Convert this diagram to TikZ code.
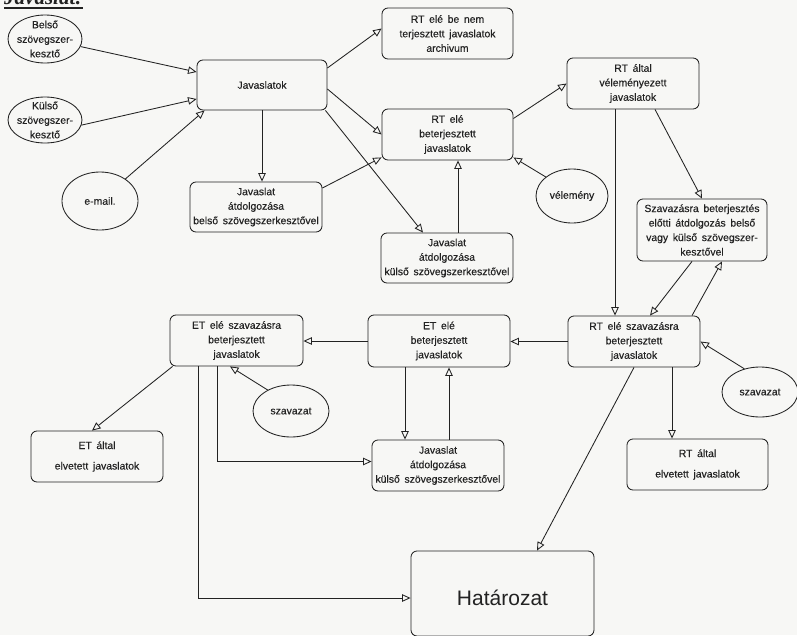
\documentclass[tikz,border=0pt]{standalone}
\usepackage{fontspec}
\setmainfont{Liberation Sans}
\newfontfamily\titlefont{Liberation Serif}
\newfontfamily\boxfont{Liberation Sans}[FakeBold=0.35]
\usetikzlibrary{arrows.meta,shapes.geometric,calc}

\definecolor{ink}{HTML}{222222}
\definecolor{paper}{HTML}{F7F7F5}

\begin{document}
\begin{tikzpicture}[x=1pt,y=-1pt,
  txt/.style={font={\boxfont\fontsize{10.4}{14.5}\selectfont\spaceskip=0.45em\relax}, text=ink, align=center},
  box/.style={txt, draw=ink, line width=0.85pt, rounded corners=6pt, inner sep=0pt},
  widebox/.style={box, font={\boxfont\fontsize{10.4}{20.5}\selectfont\spaceskip=0.45em\relax}},
  oval/.style={draw=ink, line width=0.85pt, ellipse, inner sep=0pt},
  ovaltext/.style={txt, inner sep=0pt},
  link/.style={draw=ink, line width=0.85pt, -{Triangle[open,length=8.5pt,width=7.5pt]}},
]
% page
\fill[paper] (0,0) rectangle (797,635);
\useasboundingbox (0,0) rectangle (797,635);

% heading, partly above the page edge
\node[anchor=base west, inner sep=0pt, text=ink,
      font=\titlefont\bfseries\itshape\fontsize{21}{24}\selectfont] (title) at (4,4) {Javaslat:};
\draw[ink, line width=1.6pt] ([yshift=-3.8pt]title.base west) -- ([yshift=-3.8pt]title.base east);

% sources
\node[oval, minimum width=74pt, minimum height=48pt,
      label={[ovaltext]center:Belső\\szövegszer-\\kesztő}] (belso) at (45,39) {};
\node[oval, minimum width=74pt, minimum height=46pt,
      label={[ovaltext]center:Külső\\szövegszer-\\kesztő}] (kulso) at (45,120) {};
\node[oval, minimum width=76pt, minimum height=58pt,
      label={[ovaltext]center:e-mail.}] (email) at (100,201) {};

% upper flow
\node[box, minimum width=130pt, minimum height=50pt] (jav) at (262,85) {Javaslatok};
\node[box, minimum width=131pt, minimum height=51pt] (arch) at (447.5,33.5) {RT elé be nem\\terjesztett javaslatok\\archivum};
\node[box, minimum width=131pt, minimum height=51pt] (rtb) at (447.5,134.5) {RT elé\\beterjesztett\\javaslatok};
\node[box, minimum width=132pt, minimum height=50pt] (belsoat) at (256,207) {Javaslat\\átdolgozása\\belső szövegszerkesztővel};
\node[box, minimum width=132pt, minimum height=50pt] (kulsoatA) at (447,258) {Javaslat\\átdolgozása\\külső szövegszerkesztővel};
\node[box, minimum width=132pt, minimum height=51pt] (rtvel) at (633,83.5) {RT által\\véleményezett\\javaslatok};
\node[oval, minimum width=72pt, minimum height=54pt,
      label={[ovaltext]center:vélemény}] (velemeny) at (572,196) {};
\node[box, minimum width=130pt, minimum height=62pt] (szavat) at (702,230) {Szavazásra beterjesztés\\előtti átdolgozás belső\\vagy külső szövegszer-\\kesztővel};

% lower flow
\node[box, minimum width=132pt, minimum height=51pt] (rtsz) at (634,341.5) {RT elé szavazásra\\beterjesztett\\javaslatok};
\node[oval, minimum width=76pt, minimum height=50pt,
      label={[ovaltext]center:szavazat}] (szavR) at (760,392) {};
\node[widebox, minimum width=141pt, minimum height=51pt] (rtelv) at (697.5,464.5) {RT által\\elvetett javaslatok};
\node[box, minimum width=142pt, minimum height=52pt] (etb) at (439,341) {ET elé\\beterjesztett\\javaslatok};
\node[box, minimum width=132pt, minimum height=51pt] (kulsoatB) at (438,465.5) {Javaslat\\átdolgozása\\külső szövegszerkesztővel};
\node[box, minimum width=133pt, minimum height=51pt] (etsz) at (236.5,340.5) {ET elé szavazásra\\beterjesztett\\javaslatok};
\node[oval, minimum width=76pt, minimum height=52pt,
      label={[ovaltext]center:szavazat}] (szavL) at (291,411) {};
\node[widebox, minimum width=132pt, minimum height=51pt] (etelv) at (97,456.5) {ET által\\elvetett javaslatok};
\node[box, minimum width=183pt, minimum height=85pt,
      label={[text=ink, font=\fontsize{21}{25}\selectfont, yshift=-4.5pt]center:Határozat}] (hat) at (502.5,593.5) {};

% connectors: upper flow
\draw[link] (belso.-12) -- ([yshift=13pt]jav.west);
\draw[link] (kulso.-8) -- ([yshift=-14pt]jav.west);
\draw[link] (email.41) -- ([xshift=8pt]jav.south west);
\draw[link] ([yshift=17pt]jav.east) -- ([yshift=5pt]arch.west);
\draw[link] ([yshift=-4pt]jav.east) -- (rtb.west);
\draw[link] (jav.south) -- (jav.south |- belsoat.north);
\draw[link] ([xshift=-2pt]jav.south east) -- ([xshift=-24pt]kulsoatA.north);
\draw[link] ([yshift=19pt]belsoat.east) -- ([yshift=3pt]rtb.south west);
\draw[link] ([xshift=11pt]kulsoatA.north) -- ([xshift=11pt]kulsoatA.north |- rtb.south);
\draw[link] ([yshift=16pt]rtb.east) -- (rtvel.west);
\draw[link] (velemeny.144) -- ([yshift=3pt]rtb.south east);
\draw[link] ([xshift=22pt]rtvel.south) -- (szavat.north);
\draw[link] ([xshift=-18pt]rtvel.south) -- ([xshift=-18pt]rtvel.south |- rtsz.north);
\draw[link] ([xshift=-10pt]szavat.south) -- ([xshift=16pt]rtsz.north);
\draw[link] ([xshift=58pt]rtsz.north) -- ([xshift=20pt]szavat.south);

% connectors: lower flow
\draw[link] (szavR.124) -- (rtsz.east);
\draw[link] (rtsz.west) -- (rtsz.west -| etb.east);
\draw[link] ([xshift=38pt]rtsz.south) -- ([xshift=38pt]rtsz.south |- rtelv.north);
\draw[link] (rtsz.south) -- ([xshift=34.5pt]hat.north);
\draw[link] ([xshift=-34pt]etb.south) -- ([xshift=-34pt]etb.south |- kulsoatB.north);
\draw[link] ([xshift=11pt]kulsoatB.north) -- ([xshift=11pt]kulsoatB.north |- etb.south);
\draw[link] (etb.west) -- (etb.west -| etsz.east);
\draw[link] ([xshift=3pt]etsz.south west) -- ([xshift=-5pt]etelv.north);
\draw[link] (szavL.138) -- ([xshift=-6.5pt]etsz.south);
\draw[link] ([xshift=-19.5pt]etsz.south) |- ([yshift=4pt]kulsoatB.west);
\draw[link] ([xshift=-38.5pt]etsz.south) |- ([yshift=-4.5pt]hat.west);
\end{tikzpicture}
\end{document}
